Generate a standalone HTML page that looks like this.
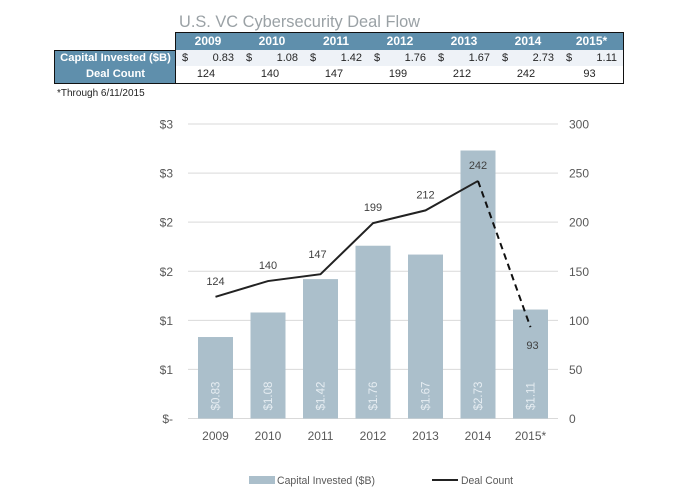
<!DOCTYPE html>
<html lang="en">
<head>
<meta charset="utf-8">
<title>U.S. VC Cybersecurity Deal Flow</title>
<style>
html,body{margin:0;padding:0;background:#fff;}
#page{position:relative;width:688px;height:493px;overflow:hidden;background:#fff;font-family:"Liberation Sans",sans-serif;}
#chart{position:absolute;left:0;top:0;}
.hdr,.lab{position:absolute;background:#5f8fac;color:#fff;font-weight:bold;text-align:center;box-sizing:border-box;}
.hdr{top:32px;height:18px;width:64px;font-size:12px;line-height:18px;}
.lab{left:55px;width:121px;font-size:11.2px;}
.cell{position:absolute;width:64px;height:16px;font-size:11px;line-height:16px;color:#262626;}
.r1{top:50px;height:16px;background:#eef2f7;}
.r2{top:66px;height:17px;line-height:17px;text-align:center;}
.r2 span{position:relative;left:-2px;}
.d{position:absolute;left:6px;top:0;}
.v{position:absolute;right:6px;top:0;}
.box{position:absolute;border:1px solid #111;box-sizing:border-box;}
</style>
</head>
<body>
<div id="page">

<svg id="chart" width="688" height="493" viewBox="0 0 688 493">
<text x="179" y="27" font-family="Liberation Sans, sans-serif" font-size="17" fill="#9aa1a5" textLength="241" lengthAdjust="spacingAndGlyphs">U.S. VC Cybersecurity Deal Flow</text>
<text x="57" y="96" font-family="Liberation Sans, sans-serif" font-size="10" fill="#222">*Through 6/11/2015</text>
<g id="grid"></g>
<g id="bars"></g>
<g id="line"></g>
<g id="labels"></g>
<g id="axes"></g>
<rect x="249" y="476" width="26" height="8" fill="#abbfcb"></rect>
<text x="277" y="484" font-family="Liberation Sans, sans-serif" font-size="11" fill="#595959" textLength="98" lengthAdjust="spacingAndGlyphs">Capital Invested ($B)</text>
<line x1="432" y1="480" x2="458" y2="480" stroke="#222" stroke-width="2"></line>
<text x="461" y="484" font-family="Liberation Sans, sans-serif" font-size="11" fill="#595959" textLength="52" lengthAdjust="spacingAndGlyphs">Deal Count</text>
</svg>

<div class="lab" style="top:50px;height:16px;line-height:16px;">Capital Invested ($B)</div>
<div class="lab" style="top:66px;height:17px;line-height:17px;">Deal Count</div>

<div class="hdr" style="left:176px">2009</div>
<div class="hdr" style="left:240px">2010</div>
<div class="hdr" style="left:304px">2011</div>
<div class="hdr" style="left:368px">2012</div>
<div class="hdr" style="left:432px">2013</div>
<div class="hdr" style="left:496px">2014</div>
<div class="hdr" style="left:560px;width:63px">2015*</div>

<div class="cell r1" style="left:176px"><span class="d">$</span><span class="v">0.83</span></div>
<div class="cell r1" style="left:240px"><span class="d">$</span><span class="v">1.08</span></div>
<div class="cell r1" style="left:304px"><span class="d">$</span><span class="v">1.42</span></div>
<div class="cell r1" style="left:368px"><span class="d">$</span><span class="v">1.76</span></div>
<div class="cell r1" style="left:432px"><span class="d">$</span><span class="v">1.67</span></div>
<div class="cell r1" style="left:496px"><span class="d">$</span><span class="v">2.73</span></div>
<div class="cell r1" style="left:560px;width:63px"><span class="d">$</span><span class="v">1.11</span></div>

<div class="cell r2" style="left:176px"><span>124</span></div>
<div class="cell r2" style="left:240px"><span>140</span></div>
<div class="cell r2" style="left:304px"><span>147</span></div>
<div class="cell r2" style="left:368px"><span>199</span></div>
<div class="cell r2" style="left:432px"><span>212</span></div>
<div class="cell r2" style="left:496px"><span>242</span></div>
<div class="cell r2" style="left:560px;width:63px"><span>93</span></div>

<div class="box" style="left:175px;top:32px;width:449px;height:52px"></div>
<div class="box" style="left:54px;top:50px;width:122px;height:34px"></div>
</div>

<script>
const categories = ['2009','2010','2011','2012','2013','2014','2015*'];
const capitalValues = [0.83,1.08,1.42,1.76,1.67,2.73,1.11];
const dealCounts = [124,140,147,199,212,242,93];
const leftTickValues = [0,0.5,1,1.5,2,2.5,3];
const leftTickLabels = ['$-','$1','$1','$2','$2','$3','$3'];
const rightTickValues = [0,50,100,150,200,250,300];
const rightTickLabels = ['0','50','100','150','200','250','300'];

const NS = 'http://www.w3.org/2000/svg';
const plot = {left:189.25, right:556.75, top:124, bottom:418.5};
const band = (plot.right - plot.left) / categories.length;
const barWidth = 35;
function xCenter(i){ return plot.left + band * (i + 0.5); }
function yLeft(v){ return plot.bottom - (v / 3) * (plot.bottom - plot.top); }
function yRight(v){ return plot.bottom - (v / 300) * (plot.bottom - plot.top); }
function mk(parent, tag, attrs, content){
  const el = document.createElementNS(NS, tag);
  for (const k in attrs) el.setAttribute(k, attrs[k]);
  if (content !== undefined) el.textContent = content;
  document.getElementById(parent).appendChild(el);
  return el;
}
const font = 'Liberation Sans, sans-serif';

leftTickValues.forEach(function(v, i){
  const y = yLeft(v);
  const g = mk('grid', 'line', {x1:188, x2:558, y1:y, y2:y, stroke:'#d9d9d9', 'stroke-width':1});
  
  
  const t = mk('axes', 'text', {x:173, y:y + 4.5, 'text-anchor':'end', 'font-family':font, 'font-size':12, fill:'#595959'}, leftTickLabels[i]);
  
  
});

rightTickValues.forEach(function(v, i){
  const t = mk('axes', 'text', {x:569, y:yRight(v) + 4.5, 'font-family':font, 'font-size':12, fill:'#595959'}, rightTickLabels[i]);
  
  
});

categories.forEach(function(c, i){
  const cx = xCenter(i);
  const top = yLeft(capitalValues[i]);
  const b = mk('bars', 'rect', {x:cx - barWidth / 2, y:top, width:barWidth, height:plot.bottom - top, fill:'#abbfcb'});
  
  
  const v = mk('labels', 'text', {transform:'translate(' + (cx + 4) + ' 396) rotate(-90)', 'text-anchor':'middle', 'font-family':font, 'font-size':11.5, fill:'#e6edf2'}, '$' + capitalValues[i].toFixed(2));
  
  
  const t = mk('axes', 'text', {x:cx, y:440, 'text-anchor':'middle', 'font-family':font, 'font-size':12, fill:'#595959'}, c);
  
  
});

const last = categories.length - 1;
let solid = '';
for (let i = 0; i < last; i++) solid += xCenter(i) + ',' + yRight(dealCounts[i]) + ' ';
const solidLine = mk('line', 'polyline', {points:solid.trim(), fill:'none', stroke:'#222', 'stroke-width':2, 'stroke-linejoin':'miter'});


const dashedLine = mk('line', 'line', {x1:xCenter(last - 1), y1:yRight(dealCounts[last - 1]), x2:xCenter(last), y2:yRight(dealCounts[last]), stroke:'#111', 'stroke-width':2, 'stroke-dasharray':'6.5 4.5'});



dealCounts.forEach(function(d, i){
  const dy = i === last ? 22 : (i === 2 ? -16 : -12);
  const dx = i === 2 ? -3 : (i === last ? 2 : 0);
  const t = mk('labels', 'text', {x:xCenter(i) + dx, y:yRight(d) + dy, 'text-anchor':'middle', 'font-family':font, 'font-size':11, fill:'#404040'}, String(d));
  
  
});
</script>
</body>
</html>
